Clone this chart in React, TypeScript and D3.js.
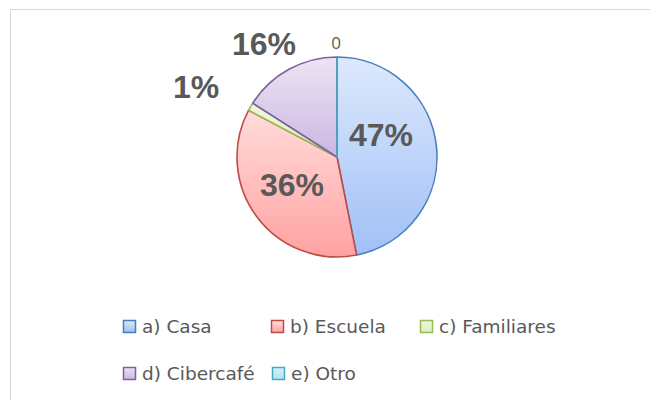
import React from 'react';
import * as d3 from 'd3';

const categories = ['a) Casa', 'b) Escuela', 'c) Familiares', 'd) Cibercafé', 'e) Otro'];
const values = [47, 36, 1.3, 16, 0];
const labels = ['47%', '36%', '1%', '16%', '0'];

const fillTop = ['#dde9fd', '#ffdcdb', '#eef7de', '#ece4f4', '#d8f0f8'];
const fillBottom = ['#a0c0f6', '#ffa2a1', '#dcefbc', '#cbb7e1', '#b6e2f0'];
const strokes = ['#4a7ebb', '#be4b48', '#98b954', '#7d60a0', '#46aac5'];

// label nudges from the centre of the pie, px
const labelXY = [[44, -22], [-45, 28], [-141, -70], [-73, -113], [-1, -115]];
const bigLabel = [true, true, true, true, false];

const legendPos = [[123, 320], [271, 320], [420, 320], [123, 367], [272, 367]];

export default function App() {
  const width = 650;
  const height = 400;
  const cx = 337;
  const cy = 157;
  const r = 100;

  const pie = d3.pie<number>().sort(null).value((d) => d);
  const arcs = pie(values);
  const arc = d3.arc<d3.PieArcDatum<number>>().innerRadius(0).outerRadius(r);

  return (
    <svg width={width} height={height} style={{ position: 'absolute', left: 0, top: 0, background: '#fff' }}>
      <defs>
        {categories.map((c, i) => (
          <linearGradient key={c} id={'g' + i} x1="0" y1="0" x2="0" y2="1">
            <stop offset="0" stopColor={fillTop[i]} />
            <stop offset="1" stopColor={fillBottom[i]} />
          </linearGradient>
        ))}
      </defs>
      <rect x={10.5} y={9.5} width={700} height={500} fill="#fff" stroke="#d9d9d9" strokeWidth={1} />
      <g transform={`translate(${cx},${cy})`}>
        {arcs.map((a, i) => (
          <path key={i} d={arc(a) || ''} fill={`url(#g${i})`} stroke={strokes[i]} strokeWidth={1.6} strokeLinejoin="round" />
        ))}
        {arcs.map((a, i) => (
          <text
            key={'l' + i}
            x={labelXY[i][0]}
            y={labelXY[i][1]}
            textAnchor="middle"
            dominantBaseline="central"
            fill="#595959"
            fontFamily={bigLabel[i] ? 'Liberation Sans, Arial, sans-serif' : 'Open Sans, sans-serif'}
            fontWeight={bigLabel[i] ? 'bold' : 'normal'}
            fontSize={bigLabel[i] ? 32 : 17}
          >
            {labels[i]}
          </text>
        ))}
      </g>
      {categories.map((c, i) => (
        <g key={'lg' + i} transform={`translate(${legendPos[i][0]},${legendPos[i][1]})`}>
          <rect x={0.5} y={0.5} width={12} height={12} fill={`url(#g${i})`} stroke={strokes[i]} strokeWidth={1.5} />
          <text x={19} y={6.5} dominantBaseline="central" fill="#595959" fontFamily="DejaVu Sans, sans-serif" fontSize={18.5}>
            {c}
          </text>
        </g>
      ))}
    </svg>
  );
}
